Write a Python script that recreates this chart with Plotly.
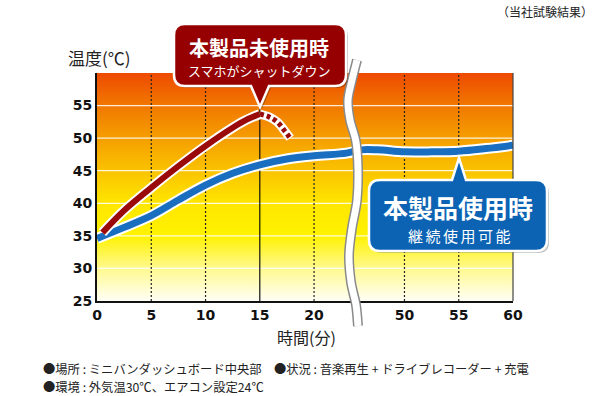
import plotly.graph_objects as go

# ---------------- data ----------------
blue_t = [0, 2.5, 5, 7.5, 10, 12.5, 15, 17.5, 20, 23, 46, 47.5, 50, 52.5, 55, 57.5, 60]
blue_v = [34.6, 36.3, 38.1, 40.5, 42.8, 44.6, 45.9, 46.8, 47.3, 47.7, 48.2, 48.2, 47.9, 47.9, 48.0, 48.4, 48.9]
red_t = [0.5, 2.5, 5, 7.5, 10, 12.5, 13.75, 15]
red_v = [35.5, 38.9, 42.4, 45.7, 48.8, 51.6, 52.8, 53.7]
red_dot_t = [15, 15.8, 16.6, 17.3, 17.8]
red_dot_v = [53.7, 53.3, 52.5, 51.1, 50.0]
x_ticks = [0, 5, 10, 15, 20, 50, 55, 60]
y_ticks = [25, 30, 35, 40, 45, 50, 55]
y_grid = [30, 35, 40, 45, 50, 55]
dotted_x = [5, 10, 20, 50, 55]
solid_x = [15]
Y_MIN, Y_MAX = 25, 60
X_MAX = 60
GAP = 21.67          # minutes hidden by the axis break
BREAK_AT = 23.5      # real minute after which the break applies

FONT = "Noto Sans CJK JP"


def vx(t):
    return t if t <= BREAK_AT else t - GAP


def vlist(ts):
    return [vx(t) for t in ts]


XR = vx(X_MAX)

# pixel layout helpers (plot area)
L, R, T, B = 97, 87, 73, 95
W, H = 600 - L - R, 396 - T - B


def px(x):
    return (x - L) / W


def py(y):
    return (396 - B - y) / H


fig = go.Figure()

# background gradient
fig.add_trace(go.Scatter(
    x=[0, XR, XR, 0, 0], y=[Y_MIN, Y_MIN, Y_MAX, Y_MAX, Y_MIN],
    fill="toself", mode="lines", line=dict(width=0),
    fillgradient=dict(type="vertical", start=Y_MIN, stop=Y_MAX, colorscale=[
        [0.0, "#FFFFF6"], [0.143, "#FFF98E"], [0.286, "#FFF200"], [0.429, "#FFE600"],
        [0.571, "#FAC300"], [0.714, "#F59E00"], [0.857, "#F17800"], [1.0, "#EE4A00"]]),
    hoverinfo="skip", showlegend=False))

# horizontal white gridlines
for g in y_grid:
    fig.add_trace(go.Scatter(x=[0, XR], y=[g, g], mode="lines",
                             line=dict(color="rgba(255,255,255,0.85)", width=1.3),
                             hoverinfo="skip", showlegend=False))
# vertical lines
for g in dotted_x:
    fig.add_trace(go.Scatter(x=[vx(g), vx(g)], y=[Y_MIN, Y_MAX], mode="lines",
                             line=dict(color="#222", width=1.2, dash="2px,2px"),
                             hoverinfo="skip", showlegend=False))
for g in solid_x:
    fig.add_trace(go.Scatter(x=[vx(g), vx(g)], y=[Y_MIN, Y_MAX], mode="lines",
                             line=dict(color="#111", width=1.2),
                             hoverinfo="skip", showlegend=False))

# blue curve
fig.add_trace(go.Scatter(x=vlist(blue_t), y=blue_v, mode="lines",
                         line=dict(color="white", width=11, shape="spline"),
                         hoverinfo="skip", showlegend=False))
fig.add_trace(go.Scatter(x=vlist(blue_t), y=blue_v, mode="lines",
                         line=dict(color="#1A6EC0", width=7, shape="spline"),
                         name="本製品使用時", showlegend=False))
# red curve
fig.add_trace(go.Scatter(x=vlist(red_dot_t), y=red_dot_v, mode="lines",
                         line=dict(color="white", width=9, shape="spline"),
                         hoverinfo="skip", showlegend=False))
fig.add_trace(go.Scatter(x=vlist(red_dot_t), y=red_dot_v, mode="lines",
                         line=dict(color="#9A0A0A", width=5, shape="spline", dash="4px,3px"),
                         hoverinfo="skip", showlegend=False))
fig.add_trace(go.Scatter(x=vlist(red_t), y=red_v, mode="lines",
                         line=dict(color="white", width=10, shape="spline"),
                         hoverinfo="skip", showlegend=False))
fig.add_trace(go.Scatter(x=vlist(red_t), y=red_v, mode="lines",
                         line=dict(color="#9A0A0A", width=6, shape="spline"),
                         name="本製品未使用時", showlegend=False))

shapes = []
# right border line
shapes.append(dict(type="line", xref="x domain", yref="y domain", x0=1, x1=1, y0=0, y1=1,
                   line=dict(color="#444", width=1.2), layer="above"))

# wavy axis-break band
wave_px = [(357, 60), (352, 80), (348, 100), (350, 120), (356, 142), (358, 170),
           (357, 200), (352, 228), (349, 255), (351, 282), (356, 305), (358, 326)]


def smooth_path(pts):
    d = "M %.4f,%.4f" % (px(pts[0][0]), py(pts[0][1]))
    n = len(pts)
    for i in range(n - 1):
        p0 = pts[max(i - 1, 0)]
        p1 = pts[i]
        p2 = pts[i + 1]
        p3 = pts[min(i + 2, n - 1)]
        c1 = (p1[0] + (p2[0] - p0[0]) / 6, p1[1] + (p2[1] - p0[1]) / 6)
        c2 = (p2[0] - (p3[0] - p1[0]) / 6, p2[1] - (p3[1] - p1[1]) / 6)
        d += " C %.4f,%.4f %.4f,%.4f %.4f,%.4f" % (px(c1[0]), py(c1[1]), px(c2[0]), py(c2[1]),
                                                   px(p2[0]), py(p2[1]))
    return d


wp = smooth_path(wave_px)
shapes.append(dict(type="path", xref="x domain", yref="y domain", path=wp,
                   line=dict(color="#8a8a8a", width=10), layer="above"))
shapes.append(dict(type="path", xref="x domain", yref="y domain", path=wp,
                   line=dict(color="white", width=7), layer="above"))


def callout(x0, y0, x1, y1, r, bx0, bx1, tx, ty, bottom):
    # rounded rect with pointer, all in pixels -> domain coords
    d = "M %.4f,%.4f" % (px(x0 + r), py(y0))
    if not bottom:
        d += " L %.4f,%.4f L %.4f,%.4f L %.4f,%.4f" % (px(bx0), py(y0), px(tx), py(ty), px(bx1), py(y0))
    d += " L %.4f,%.4f" % (px(x1 - r), py(y0))
    d += " Q %.4f,%.4f %.4f,%.4f" % (px(x1), py(y0), px(x1), py(y0 + r))
    d += " L %.4f,%.4f" % (px(x1), py(y1 - r))
    d += " Q %.4f,%.4f %.4f,%.4f" % (px(x1), py(y1), px(x1 - r), py(y1))
    if bottom:
        d += " L %.4f,%.4f L %.4f,%.4f L %.4f,%.4f" % (px(bx1), py(y1), px(tx), py(ty), px(bx0), py(y1))
    d += " L %.4f,%.4f" % (px(x0 + r), py(y1))
    d += " Q %.4f,%.4f %.4f,%.4f" % (px(x0), py(y1), px(x0), py(y1 - r))
    d += " L %.4f,%.4f" % (px(x0), py(y0 + r))
    d += " Q %.4f,%.4f %.4f,%.4f Z" % (px(x0), py(y0), px(x0 + r), py(y0))
    return d


red_path = callout(174, 24, 346, 86, 11, 251, 269, 260, 107, True)
red_shadow = callout(176, 26, 348, 88, 11, 253, 271, 262, 109, True)
blue_path = callout(369, 180, 547, 251, 11, 452, 466, 459, 158, False)
blue_shadow = callout(371, 182, 549, 253, 11, 454, 468, 461, 160, False)
shapes.append(dict(type="path", xref="x domain", yref="y domain", path=red_shadow,
                   fillcolor="rgba(0,0,0,0.25)", line=dict(width=0), layer="above"))
shapes.append(dict(type="path", xref="x domain", yref="y domain", path=red_path,
                   fillcolor="#960000", line=dict(color="white", width=2.5), layer="above"))
shapes.append(dict(type="path", xref="x domain", yref="y domain", path=blue_shadow,
                   fillcolor="rgba(0,0,0,0.25)", line=dict(width=0), layer="above"))
shapes.append(dict(type="path", xref="x domain", yref="y domain", path=blue_path,
                   fillcolor="#0C63B3", line=dict(color="white", width=2.5), layer="above"))

annotations = []


def ann(text, x, y, size, color="#222", bold=False, xanchor="center", family=FONT):
    annotations.append(dict(text=("<b>%s</b>" % text) if bold else text,
                            xref="paper", yref="paper", x=px(x), y=py(y),
                            xanchor=xanchor, yanchor="middle", showarrow=False,
                            font=dict(family=family, size=size, color=color)))


SP = "\u2006"
ann("本製品未使用時", 259, 47, 20, "white", True)
ann("スマホがシャットダウン", 259, 70, 13, "white")
ann("本製品使用時", 458, 207, 25, "white", True)
ann(SP.join("継続使用可能"), 459, 235, 15, "white")
ann("温度(℃)", 99, 57, 17)
ann("時間(分)", 306, 337, 16)
ann("（当社試験結果）", 545, 12, 12)
ann("●場所 : ミニバンダッシュボード中央部　●状況 : 音楽再生 + ドライブレコーダー + 充電",
    41, 368.5, 12.3, "#222", False, "left")
ann("●環境 : 外気温30℃、エアコン設定24℃", 41, 386.5, 12.3, "#222", False, "left")

fig.update_layout(
    width=600, height=396, autosize=False,
    margin=dict(l=L, r=R, t=T, b=B, pad=0),
    paper_bgcolor="white", plot_bgcolor="white",
    showlegend=False, hovermode=False,
    shapes=shapes, annotations=annotations,
    xaxis=dict(range=[0, XR], tickmode="array", tickvals=vlist(x_ticks),
               ticktext=[str(t) for t in x_ticks], showgrid=False, zeroline=False,
               showline=True, linecolor="#111", linewidth=2, ticks="",
               tickfont=dict(family="DejaVu Sans", size=14, color="#111", weight="bold"),
               fixedrange=True),
    yaxis=dict(range=[Y_MIN, Y_MAX], tickmode="array", tickvals=y_ticks,
               ticktext=[str(t) for t in y_ticks], showgrid=False, zeroline=False,
               showline=True, linecolor="#111", linewidth=2, ticks="",
               tickfont=dict(family="DejaVu Sans", size=14, color="#111", weight="bold"),
               fixedrange=True),
)

fig.write_html("out.html", config=dict(displayModeBar=False),
               post_script="document.body.style.margin='0';document.body.style.overflow='hidden';")
